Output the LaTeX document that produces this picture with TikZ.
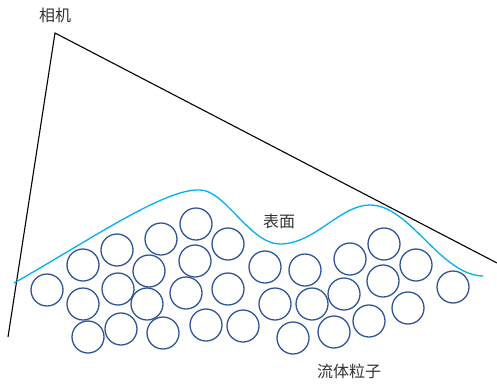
\documentclass[tikz,border=0pt]{standalone}
\usepackage{fontspec}
\newfontfamily\cjk{Noto Sans CJK SC}
\definecolor{particle}{HTML}{2F5597}
\definecolor{surf}{HTML}{00B0F0}
\begin{document}
\begin{tikzpicture}[x=1pt,y=-1pt,
  particle/.style={draw=particle,line width=1.3pt,circle,minimum size=32pt,inner sep=0pt},
  label/.style={font=\cjk\fontsize{16}{18}\selectfont,text=black!80,inner sep=0pt},
  frustum/.style={draw=black,line width=1.1pt},
  surface/.style={draw=surf,line width=1.3pt}]
\useasboundingbox (0,0) rectangle (497,383);
% camera frustum
\coordinate (cam) at (55,33);
\coordinate (left) at (8,337);
\coordinate (right) at (497,263);
\draw[frustum] (left) -- (cam) -- (right);
\node[label] (camlabel) at (55,15) {相机};
% surface
\coordinate (s0) at (14,283);
\coordinate (s1) at (200,190);
\coordinate (s2) at (280,244);
\coordinate (s3) at (370,205);
\coordinate (s4) at (483,276);
\draw[surface] (s0) .. controls (90,240) and (165,188) .. (s1)
  .. controls (225,190) and (250,244) .. (s2)
  .. controls (315,244) and (340,205) .. (s3)
  .. controls (410,205) and (440,275) .. (s4);
\node[label] (surflabel) at (279,221) {表面};
% particles
\foreach \x/\y [count=\i] in {47/290,83/265,83/304,88/337,117/250,118/289,121/329,149/271,147/304,161/239,163/333,196/224,195/261,186/293,206/325,228/244,228/289,243/326,265/267,275/304,293/338,305/270,312/304,334/332,344/294,350/259,369/321,384/244,383/281,408/308,416/265,453/287}
  \node[particle] (p\i) at (\x,\y) {};
\node[label] (plabel) at (349,371) {流体粒子};
\end{tikzpicture}
\end{document}
